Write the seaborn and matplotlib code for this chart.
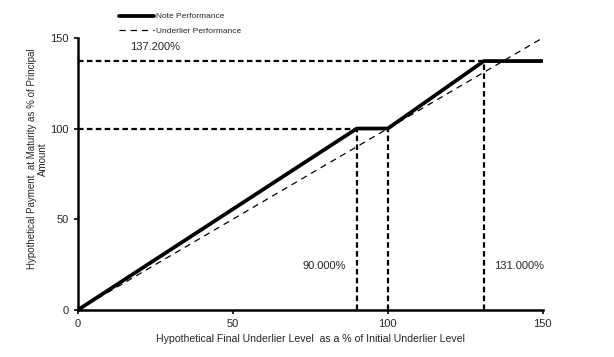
import matplotlib
matplotlib.use("Agg")
import matplotlib.pyplot as plt
import seaborn as sns
import pandas as pd

# payoff values
note_x = [0, 90, 100, 131, 150]
note_y = [0, 100, 100, 137.2, 137.2]
underlier_x = [0, 150]
underlier_y = [0, 150]

# reference (dashed) guide lines
hlines = [(137.2, 0, 131), (100, 0, 90)]
vlines = [(90, 0, 100), (100, 0, 100), (131, 0, 137.2)]
labels = [("137.200%", 25, 145), ("90.000%", 79.5, 24), ("131.000%", 142.5, 24)]

ticks = [0, 50, 100, 150]

sns.set_style("white")
plt.rcParams['font.family'] = ['Liberation Sans', 'DejaVu Sans']

df = pd.concat([
    pd.DataFrame({"x": note_x, "y": note_y, "series": "Note Performance"}),
    pd.DataFrame({"x": underlier_x, "y": underlier_y, "series": "Underlier Performance"}),
])

fig, ax = plt.subplots(figsize=(6.14, 3.57), dpi=100)
fig.subplots_adjust(left=0.127, right=0.884, bottom=0.132, top=0.894)

for y, x0, x1 in hlines:
    ax.plot([x0, x1], [y, y], color="black", ls=(0, (2.5, 1.5)), lw=1.6)
for x, y0, y1 in vlines:
    ax.plot([x, x], [y0, y1], color="black", ls=(0, (2.5, 1.5)), lw=1.6)

sns.lineplot(data=df, x="x", y="y", hue="series", style="series", size="series",
             palette=["black", "black"], dashes=["", (5, 4)],
             sizes={"Note Performance": 2.7, "Underlier Performance": 0.9},
             sort=False, estimator=None, ax=ax, legend=True)

for txt, x, y in labels:
    ax.text(x, y, txt, ha="center", va="center", fontsize=8)

ax.set_xlim(0, 150)
ax.set_ylim(0, 150)
ax.set_xticks(ticks)
ax.set_yticks(ticks)
ax.tick_params(labelsize=8, length=3, width=1.2, direction="out",
               bottom=True, left=True, color="black")
for s in ["top", "right"]:
    ax.spines[s].set_visible(False)
for s in ["left", "bottom"]:
    ax.spines[s].set_color("black")
    ax.spines[s].set_linewidth(1.8)

ax.set_xlabel("Hypothetical Final Underlier Level  as a % of Initial Underlier Level", fontsize=7.6)
ax.set_ylabel("Hypothetical Payment  at Maturity as % of Principal\nAmount", fontsize=7)
ax.yaxis.set_label_coords(-0.064, 0.555)

handles, lbls = ax.get_legend_handles_labels()
ax.legend(handles, lbls, loc="upper center", bbox_to_anchor=(0.22, 1.105),
          frameon=False, fontsize=6, handlelength=4.2, labelspacing=0.75,
          handletextpad=0.3, borderaxespad=0)

fig.savefig("out.png", dpi=100)
